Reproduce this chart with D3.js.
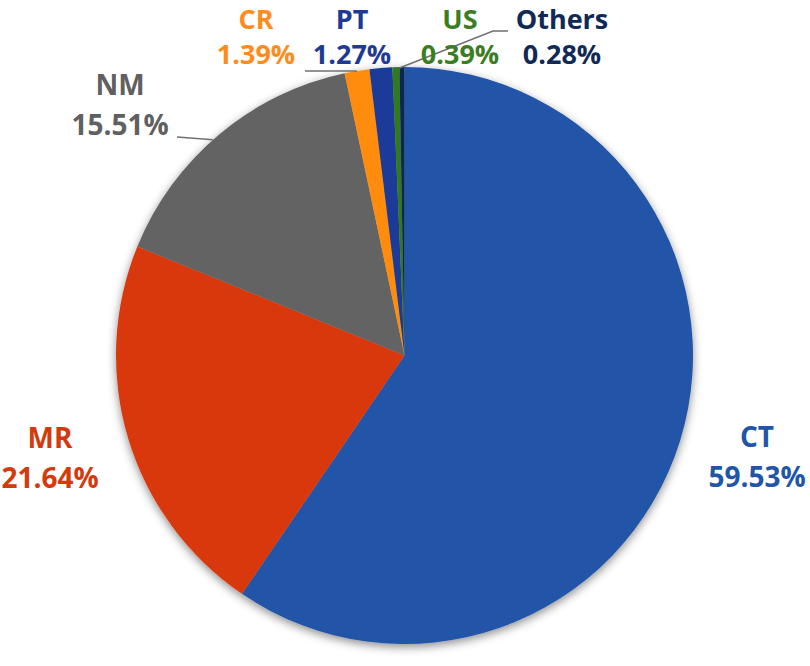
<!DOCTYPE html>
<html><head><meta charset="utf-8">
<script src="https://cdn.jsdelivr.net/npm/d3@7"></script>
<style>body{margin:0;background:#fff}svg{display:block}</style>
</head><body>
<script>
const categories = ["CT","MR","NM","CR","PT","US","Others"];
const values = [59.53,21.64,15.51,1.39,1.27,0.39,0.28];
const labels = ["59.53%","21.64%","15.51%","1.39%","1.27%","0.39%","0.28%"];
const sliceColors = ["#2155a8","#d9390b","#646464","#ff8c0f","#1b3a98","#2e7a1f","#0e2556"];
const textColors = ["#2155a8","#d33a0c","#606060","#ff8c1a","#1f3a93","#3a7d22","#102a55"];
// label centers (x, y of first line baseline, line gap, font size)
const labelPos = [[757,447,40,28],[50,448,40,28],[120,95,40,28],[256,29,35,27],[352,29,35,27],[460,29,35,27],[562,29,35,27]];

const W=810,H=666, cx=404.5, cy=355.5, R=288.5;
const svg=d3.select("body").append("svg").attr("width",W).attr("height",H);
const defs=svg.append("defs");
const f=defs.append("filter").attr("id","sh").attr("x","-20%").attr("y","-20%").attr("width","140%").attr("height","140%");
f.append("feDropShadow").attr("dx",0).attr("dy",3).attr("stdDeviation",5).attr("flood-color","#000").attr("flood-opacity",0.45);

const pie=d3.pie().sort(null).value(d=>d)(values);
const arc=d3.arc().innerRadius(0).outerRadius(R);
const g=svg.append("g").attr("transform",`translate(${cx},${cy})`);
const shadowG=g.append("g").attr("filter","url(#sh)");
shadowG.selectAll("path").data(pie).join("path").attr("d",arc).attr("fill",(d,i)=>sliceColors[i]);

// leader lines
const edge=(a)=>[cx+R*Math.sin(a),cy-R*Math.cos(a)];
function mid(i){return (pie[i].startAngle+pie[i].endAngle)/2;}
const leaders=[
  [[177,137],edge(mid(2)-0.03)],
  [[305,71],edge(mid(3))],
];
const oe=edge(pie[6].startAngle);
leaders.push([[oe[0],oe[1]+1],[493,31],[508,31]]);
const line=d3.line();
svg.selectAll("path.ld").data(leaders).join("path").attr("class","ld")
  .attr("d",line).attr("fill","none").attr("stroke","#707070").attr("stroke-width",1.5);

const t=svg.selectAll("text.lb").data(categories).join("text").attr("class","lb")
  .attr("text-anchor","middle").attr("font-family","'Open Sans', sans-serif")
  .attr("font-weight","bold").attr("font-size",(d,i)=>labelPos[i][3]).attr("fill",(d,i)=>textColors[i]);
t.append("tspan").attr("x",(d,i)=>labelPos[i][0]).attr("y",(d,i)=>labelPos[i][1]).text(d=>d);
t.append("tspan").attr("x",(d,i)=>labelPos[i][0]).attr("y",(d,i)=>labelPos[i][1]+labelPos[i][2]).text((d,i)=>labels[i]);
</script>
</body></html>
